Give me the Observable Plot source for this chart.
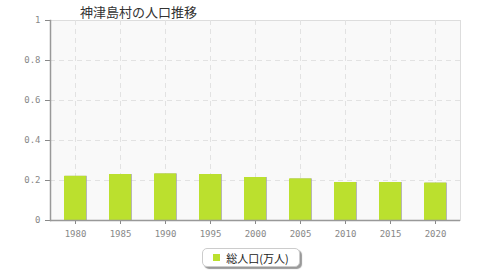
<!DOCTYPE html>
<html><head><meta charset="utf-8">
<script src="https://cdn.jsdelivr.net/npm/d3@7"></script>
<script src="https://cdn.jsdelivr.net/npm/@observablehq/plot@0.6"></script>
<style>
body{margin:0;background:#fff;}
#wrap{position:relative;width:480px;height:280px;overflow:hidden;}
#title{position:absolute;left:80px;top:2px;font:13px "Noto Sans CJK JP",sans-serif;color:#333;white-space:nowrap;}
#legend{position:absolute;left:202px;top:248px;width:96px;height:17px;border:1px solid #ccc;border-radius:5px;box-shadow:2px 2px 1px #999;background:#fff;font:11px "Noto Sans CJK JP",sans-serif;color:#222;display:flex;align-items:center;justify-content:center;}
#legend span.sw{display:inline-block;width:7px;height:7px;background:#bbe02e;margin-right:6px;}
</style></head><body>
<div id="wrap">
<div id="chart"></div>
<div id="title">神津島村の人口推移</div>
<div id="legend"><span class="sw"></span>総人口(万人)</div>
</div>
<script>
const years = ["1980","1985","1990","1995","2000","2005","2010","2015","2020"];
const population = [0.221, 0.230, 0.233, 0.230, 0.215, 0.208, 0.190, 0.190, 0.187];
const yTicks = [0, 0.2, 0.4, 0.6, 0.8, 1];
const yTickLabels = ["0", "0.2", "0.4", "0.6", "0.8", "1"];
const data = years.map((y, i) => ({year: y, value: population[i]}));

const chart = Plot.plot({
  width: 480, height: 280,
  marginLeft: 50, marginRight: 20, marginTop: 20, marginBottom: 60,
  style: {fontFamily: "'DejaVu Sans Mono', monospace", fontSize: "9px", color: "#888", background: "transparent"},
  x: {domain: years, paddingInner: 0.52, paddingOuter: 0.26, align: 0.5, label: null},
  y: {domain: [0, 1], label: null},
  marks: [
    Plot.frame({fill: "#f9f9f9", stroke: "#ddd"}),
    Plot.ruleY(yTicks.filter(d => d > 0 && d < 1), {stroke: "#e2e2e2", strokeDasharray: "5,4"}),
    Plot.gridX({stroke: "#e2e2e2", strokeOpacity: 1, strokeDasharray: "5,4"}),
    Plot.barY(data, {x: "year", y: "value", fill: "#a5a5a5", dx: 1, fillOpacity: 0.8}),
    Plot.barY(data, {x: "year", y: "value", fill: "#bbe02e"}),
    Plot.axisX({tickSize: 4, tickPadding: 6, stroke: "#888", fill: "#888"}),
    Plot.axisY({ticks: yTicks, tickFormat: d => yTickLabels[yTicks.indexOf(d)], tickSize: 5, tickPadding: 5, stroke: "#888", fill: "#888"}),
    Plot.frame({anchor: "left", stroke: "#999", strokeWidth: 1.5}),
    Plot.ruleY([0], {stroke: "#999", strokeWidth: 1.5})
  ]
});
document.getElementById("chart").appendChild(chart);
</script>
</body></html>
